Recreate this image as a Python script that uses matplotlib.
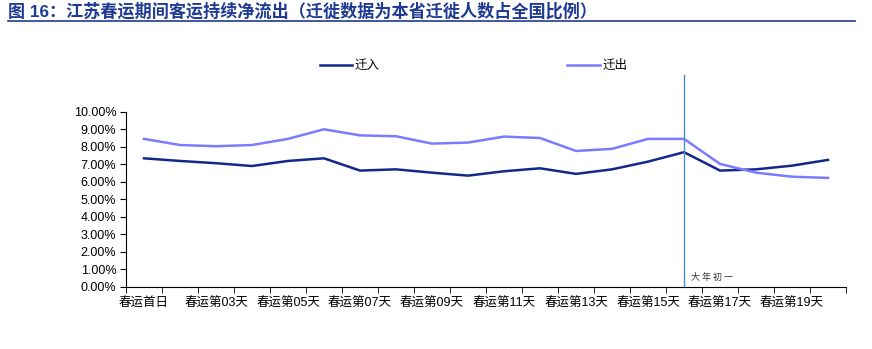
import matplotlib.pyplot as plt
from matplotlib.ticker import FuncFormatter

plt.rcParams['font.family'] = ['Liberation Sans', 'Noto Sans CJK SC', 'DejaVu Sans']

# 春运第1~20天
days = ['春运首日'] + ['春运第%02d天' % i for i in range(2, 21)]
inflow = [7.35, 7.20, 7.07, 6.91, 7.20, 7.35, 6.65, 6.72, 6.53, 6.36,
          6.61, 6.78, 6.46, 6.72, 7.16, 7.70, 6.65, 6.72, 6.93, 7.26]
outflow = [8.46, 8.11, 8.04, 8.11, 8.46, 9.01, 8.66, 8.61, 8.19, 8.25,
           8.59, 8.51, 7.77, 7.89, 8.46, 8.46, 7.03, 6.53, 6.30, 6.23]
new_year_idx = 15  # 大年初一
title = '图 16：江苏春运期间客运持续净流出（迁徙数据为本省迁徙人数占全国比例）'

dark = '#14288c'
light = '#7b7bff'

fig = plt.figure(figsize=(8.72, 3.49), dpi=100)
ax = fig.add_axes([0.1445, 0.1777, 0.8257, 0.5016])

x = range(len(days))
ax.plot(x, inflow, color=dark, lw=1.8, label='迁入')
ax.plot(x, outflow, color=light, lw=1.8, label='迁出')

ax.set_xlim(-0.5, len(days) - 0.5)
ax.set_ylim(0, 10)
ax.set_yticks(range(0, 11))
ax.yaxis.set_major_formatter(FuncFormatter(lambda v, p: '%.2f%%' % v))

# 标签隔一个显示，刻度线放在分类之间
ax.set_xticks(list(x)[::2])
ax.set_xticklabels(days[::2])
ax.set_xticks([i - 0.5 for i in range(len(days) + 1)], minor=True)
ax.tick_params(axis='x', which='major', length=0, pad=8, labelsize=9)
ax.tick_params(axis='x', which='minor', length=4, direction='out')
ax.tick_params(axis='y', length=4, direction='out', labelsize=9, pad=3)

for s in ['top', 'right']:
    ax.spines[s].set_visible(False)

ax.axvline(new_year_idx, ymin=0, ymax=1.21, color='#4f8ac9', lw=1, clip_on=False)
ax.text(new_year_idx + 0.2, 0.4, '大 年 初 一', fontsize=6.5, color='#333333',
        family=['Noto Sans CJK SC'])

fig.legend(loc='center', bbox_to_anchor=(0.543, 0.811), ncol=2, frameon=False,
           fontsize=9, handlelength=2.6, handletextpad=0.2, columnspacing=15)

fig.text(0.009, 0.968, title, fontsize=12.3, fontweight='bold', color='#1f3a93',
         va='center', ha='left')
fig.add_artist(plt.Line2D([0.009, 0.981], [0.94, 0.94], color='#1f3a93', lw=1.2))

fig.savefig('out.png', dpi=100)
